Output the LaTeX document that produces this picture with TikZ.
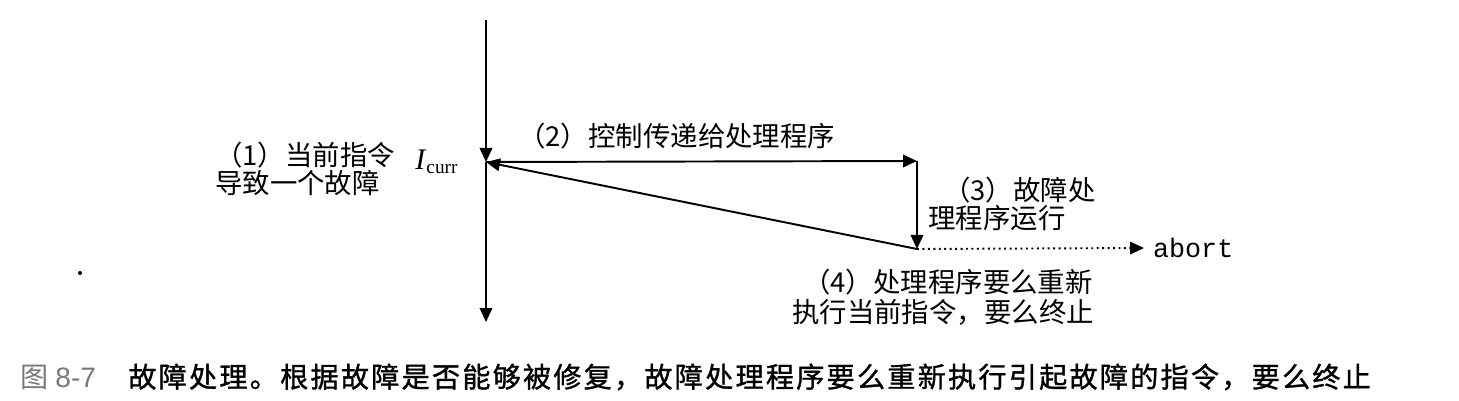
\documentclass[tikz,border=0pt]{standalone}
\usepackage{fontspec}
\setmainfont{Liberation Serif}
\newfontfamily\cjk{Noto Sans CJK SC}
\newfontfamily\cjkcap[LetterSpace=8,FakeBold=1.2]{Noto Sans CJK SC}
\newfontfamily\monof{Liberation Mono}
\newfontfamily\capsans{Liberation Sans}
\usetikzlibrary{arrows.meta}
\definecolor{capgray}{RGB}{120,120,120}
\tikzset{
  flow/.style={line width=1.1pt,-{Triangle[length=0.28cm,width=0.25cm]}},
  lbl/.style={inner sep=0pt,anchor=west,font=\cjk\fontsize{15.6pt}{18pt}\selectfont},
  capbold/.style={inner sep=0pt,anchor=west,font=\cjkcap\fontsize{16pt}{18pt}\selectfont}}
\begin{document}
\begin{tikzpicture}[x=0.02cm,y=-0.02cm]
\useasboundingbox (0,0) rectangle (1459,401);
% points
\coordinate (top) at (486,20);
\coordinate (cur) at (486,162);
\coordinate (bot) at (486,322);
\coordinate (h1) at (917,161);
\coordinate (h2) at (917,249);
\node[inner sep=5pt,anchor=west,font=\monof\fontsize{15.2pt}{17pt}\selectfont] (abort) at (1144,248) {abort};
\coordinate (abt) at (abort.west);
% connectors
\draw[flow] (top) -- (cur);
\draw[flow] (cur) -- (bot);
\draw[flow] (cur) -- (h1);
\draw[flow] (h1) -- (h2);
\draw[flow] (h2) -- (cur);
\draw[flow,dotted] (h2) -- (abt);
% labels
\node[inner sep=0pt,anchor=base west,font=\fontsize{17pt}{20pt}\selectfont] (icurr) at (415,170) {\textit{I}\raisebox{-0.25ex}{\fontsize{11pt}{12pt}\selectfont curr}};
\node[lbl] (l1a) at (215,155) {（1）当前指令};
\node[lbl] (l1b) at (215,183) {导致一个故障};
\node[lbl] (l2) at (518,136) {（2）控制传递给处理程序};
\node[lbl] (l3a) at (943,190) {（3）故障处};
\node[lbl] (l3b) at (928,218) {理程序运行};
\node[lbl] (l4a) at (803,282) {（4）处理程序要么重新};
\node[lbl] (l4b) at (792,312) {执行当前指令，要么终止};
% speck
\fill (80,273) circle (2);
% caption
\node[inner sep=0pt,anchor=west,text=capgray,font=\fontsize{16pt}{18pt}\selectfont] (fignum) at (20,377) {{\cjk 图} {\capsans 8-7}};
\node[capbold] (cap) at (128,377) {故障处理。根据故障是否能够被修复，故障处理程序要么重新执行引起故障的指令，要么终止};
\end{tikzpicture}
\end{document}
